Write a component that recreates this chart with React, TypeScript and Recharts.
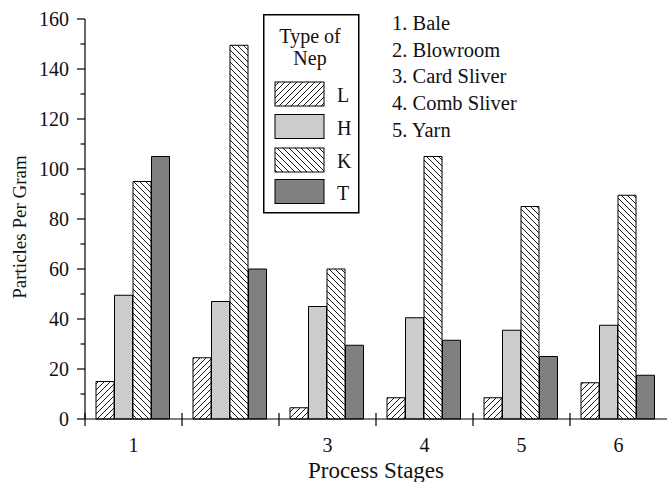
import { BarChart, Bar, XAxis, YAxis, Legend } from "recharts";

const STAGES = ["1", "2", "3", "4", "5", "6"];
const STAGE_TICK_LABELS = ["1", "", "3", "4", "5", "6"];
const L_VALUES = [15, 24.5, 4.5, 8.5, 8.5, 14.5];
const H_VALUES = [49.5, 47, 45, 40.5, 35.5, 37.5];
const K_VALUES = [95, 149.5, 60, 105, 85, 89.5];
const T_VALUES = [105, 60, 29.5, 31.5, 25, 17.5];
const Y_TICKS = [0, 10, 20, 30, 40, 50, 60, 70, 80, 90, 100, 110, 120, 130, 140, 150, 160];
const STAGE_NAMES = ["1. Bale", "2. Blowroom", "3. Card Sliver", "4. Comb Sliver", "5. Yarn"];

const SERIES = [
  { key: "L", fill: "url(#hatchL)" },
  { key: "H", fill: "#cccccc" },
  { key: "K", fill: "url(#hatchK)" },
  { key: "T", fill: "#808080" },
];

const data = STAGES.map((s, i) => ({
  stage: s,
  L: L_VALUES[i],
  H: H_VALUES[i],
  K: K_VALUES[i],
  T: T_VALUES[i],
}));

const W = 668;
const H = 482;
const MARGIN = { top: 19, right: 1, left: 0, bottom: 3 };
const Y_AXIS_W = 85;
const X_AXIS_H = 60;
const BAND = (W - MARGIN.left - MARGIN.right - Y_AXIS_W) / STAGES.length;
const FONT = "Liberation Serif, Times New Roman, serif";

function YTick({ x, y, payload }: any) {
  const major = payload.value % 20 === 0;
  return (
    <g>
      <line x1={x} x2={x - (major ? 8 : 4.5)} y1={y} y2={y} stroke="#000" strokeWidth={1.2} />
      {major && (
        <text x={x - 16} y={y} dy={7} textAnchor="end" fontSize={20} fontFamily={FONT} fill="#111">
          {payload.value}
        </text>
      )}
    </g>
  );
}

function XTick({ x, y, payload, index }: any) {
  const left = x - BAND / 2;
  return (
    <g>
      <line x1={left} x2={left} y1={y - 6} y2={y + 7} stroke="#000" strokeWidth={1.2} />
      <text x={x} y={y + 33} textAnchor="middle" fontSize={20} fontFamily={FONT} fill="#111">
        {STAGE_TICK_LABELS[index] ?? payload.value}
      </text>
    </g>
  );
}

function NepLegend() {
  const swatchY = [68, 100.5, 134, 165.5];
  return (
    <svg width={300} height={200} style={{ overflow: "visible" }}>
      <rect x={0.75} y={0.75} width={95} height={198} fill="#fff" stroke="#000" strokeWidth={1.5} />
      <text x={47} y={29} textAnchor="middle" fontSize={20} fontFamily={FONT} fill="#111">
        Type of
      </text>
      <text x={47} y={51} textAnchor="middle" fontSize={20} fontFamily={FONT} fill="#111">
        Nep
      </text>
      {SERIES.map((s, i) => (
        <g key={s.key}>
          <rect x={12} y={swatchY[i]} width={49} height={24} fill={s.fill} stroke="#000" strokeWidth={1} />
          <text x={74} y={swatchY[i] + 20} fontSize={20} fontFamily={FONT} fill="#111">
            {s.key}
          </text>
        </g>
      ))}
      {STAGE_NAMES.map((name, i) => (
        <text key={name} x={129} y={16 + i * 26.7} fontSize={20.5} fontFamily={FONT} fill="#111">
          {name}
        </text>
      ))}
    </svg>
  );
}

export default function App() {
  return (
    <div style={{ position: "fixed", left: 0, top: 0, width: W, height: H, background: "#fff" }}>
      <BarChart
        width={W}
        height={H}
        data={data}
        margin={MARGIN}
        barCategoryGap={11}
        barGap={0.5}
      >
        <defs>
          <pattern id="hatchL" width={6} height={6} patternUnits="userSpaceOnUse">
            <rect width={6} height={6} fill="#fff" />
            <path d="M-1,1 l2,-2 M0,6 l6,-6 M5,7 l2,-2" stroke="#000" strokeWidth={0.9} />
          </pattern>
          <pattern id="hatchK" width={6} height={6} patternUnits="userSpaceOnUse">
            <rect width={6} height={6} fill="#fff" />
            <path d="M-1,5 l2,2 M0,0 l6,6 M5,-1 l2,2" stroke="#000" strokeWidth={0.9} />
          </pattern>
        </defs>
        <XAxis
          dataKey="stage"
          height={X_AXIS_H}
          tickLine={false}
          tickSize={0}
          tickMargin={0}
          axisLine={{ stroke: "#000", strokeWidth: 1.2 }}
          tick={<XTick />}
          interval={0}
          label={{
            value: "Process Stages",
            position: "insideBottom",
            offset: 1,
            fontSize: 23,
            fontFamily: FONT,
            fill: "#111",
          }}
        />
        <YAxis
          width={Y_AXIS_W}
          domain={[0, 160]}
          ticks={Y_TICKS}
          interval={0}
          tickLine={false}
          tickSize={0}
          tickMargin={0}
          axisLine={{ stroke: "#000", strokeWidth: 1.2 }}
          tick={<YTick />}
          label={{
            value: "Particles Per Gram",
            angle: -90,
            position: "insideLeft",
            offset: 16,
            dy: 8,
            dx: 3,
            fontSize: 19,
            fontFamily: FONT,
            fill: "#111",
            style: { textAnchor: "middle" },
          }}
        />
        <Legend
          layout="vertical"
          align="center"
          verticalAlign="middle"
          wrapperStyle={{ left: 263, top: 14, width: 300, height: 200 }}
          content={() => <NepLegend />}
        />
        {SERIES.map((s) => (
          <Bar
            key={s.key}
            dataKey={s.key}
            fill={s.fill}
            stroke="#000"
            strokeWidth={1}
            isAnimationActive={false}
          />
        ))}
      </BarChart>
    </div>
  );
}
